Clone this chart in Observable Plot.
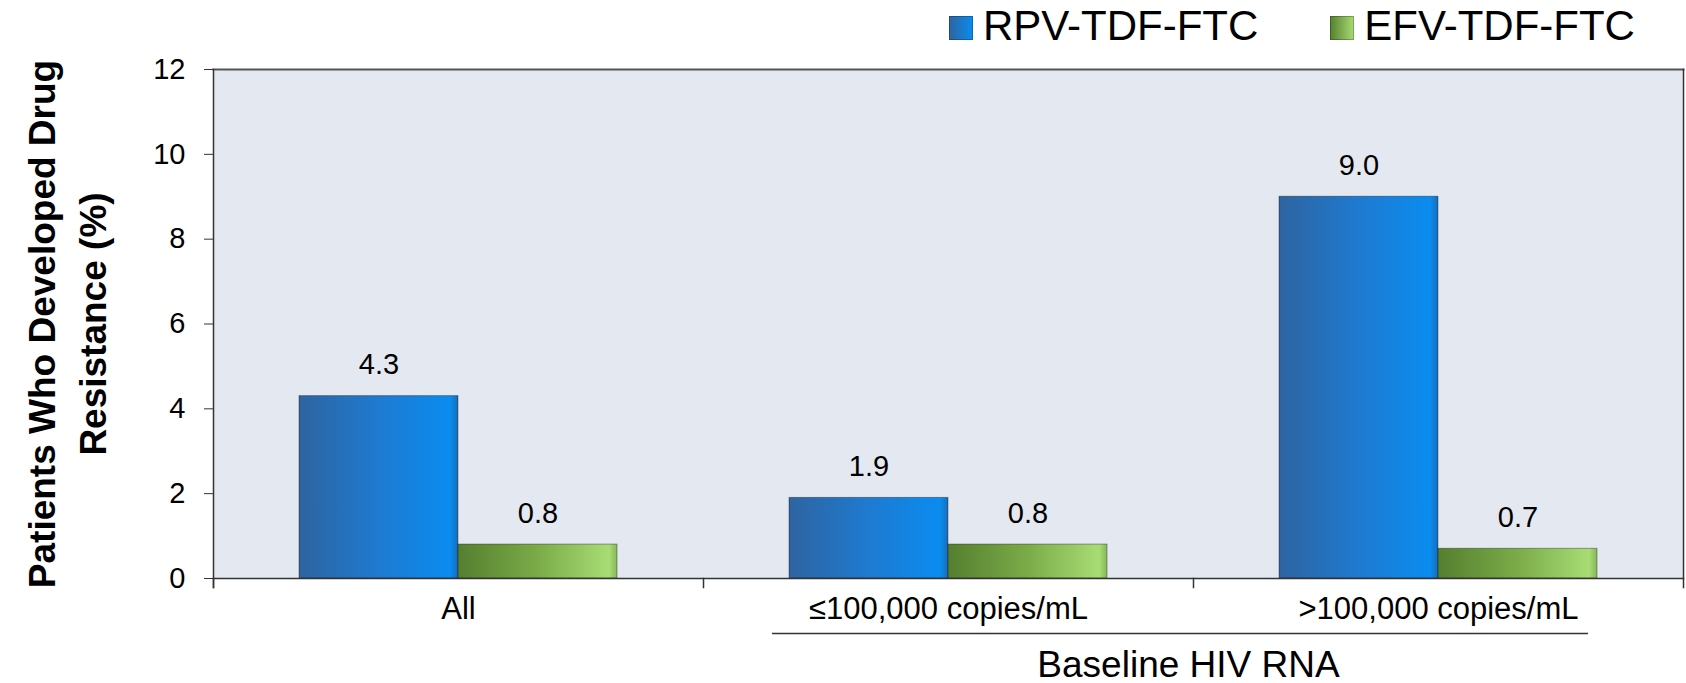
<!DOCTYPE html>
<html>
<head>
<meta charset="utf-8">
<script src="https://cdn.jsdelivr.net/npm/d3@7"></script>
<script src="https://cdn.jsdelivr.net/npm/@observablehq/plot@0.6"></script>
<style>
  html, body { margin: 0; padding: 0; background: #fff; }
  body { width: 1686px; height: 683px; overflow: hidden; font-family: "Liberation Sans", Arial, sans-serif; }
  #legend { height: 52px; display: flex; align-items: flex-start; padding-left: 949px; box-sizing: border-box; }
  .item { display: flex; align-items: flex-start; font-size: 42px; line-height: 52px; color: #000; }
  .item + .item { margin-left: 72px; }
  .sw { width: 24px; height: 24px; margin-top: 16px; margin-right: 10px; box-shadow: inset 0 0 0 1px rgba(0,0,0,0.25); }
</style>
</head>
<body>
<div id="legend"></div>
<div id="chart"></div>
<script>
// ---- data ----
const categories = ["All", "≤100,000 copies/mL", ">100,000 copies/mL"];
const series = ["RPV-TDF-FTC", "EFV-TDF-FTC"];
const rpvValues = [4.3, 1.9, 9.0];
const efvValues = [0.8, 0.8, 0.7];
const yTicks = [0, 2, 4, 6, 8, 10, 12];
const yTitle = "Patients Who Developed Drug\nResistance (%)";
const groupTitle = "Baseline HIV RNA";
const groupMembers = [categories[1], categories[2]];

const seriesGradients = ["url(#gradBlue)", "url(#gradGreen)"];
const legendCss = [
  "linear-gradient(90deg, #2e64a0, #0a8cf0)",
  "linear-gradient(90deg, #557f30, #a8dc74)"
];

const rows = [];
categories.forEach((c, i) => {
  rows.push({category: c, series: series[0], value: rpvValues[i]});
  rows.push({category: c, series: series[1], value: efvValues[i]});
});

// ---- legend ----
const legend = document.getElementById("legend");
series.forEach((s, i) => {
  const item = document.createElement("div");
  item.className = "item";
  const sw = document.createElement("div");
  sw.className = "sw";
  sw.style.background = legendCss[i];
  const t = document.createElement("span");
  t.textContent = s;
  item.append(sw, t);
  legend.append(item);
});

// ---- chart ----
const W = 1686, H = 631, mT = 17, mB = 105, mL = 213, mR = 3;
const frameH = H - mT - mB;
const fmt = d3.format(".1f");
const lineColor = "#333";

const chart = Plot.plot({
  width: W,
  height: H,
  marginTop: mT,
  marginBottom: mB,
  marginLeft: mL,
  marginRight: mR,
  style: {fontFamily: "Liberation Sans, Arial, sans-serif", fontSize: "29px", color: "#000", background: "#fff", overflow: "visible"},
  fx: {domain: categories, padding: 0, axis: null},
  x: {domain: series, paddingInner: 0, paddingOuter: 0.54, axis: null},
  y: {domain: [0, 12], axis: null},
  color: {domain: series, range: seriesGradients},
  marks: [
    Plot.frame({facet: "super", fill: "#e4e8f0", stroke: "none"}),
    Plot.barY(rows, {fx: "category", x: "series", y: "value", fill: "series", stroke: "rgba(0,0,0,0.35)", strokeWidth: 1}),
    Plot.text(rows, {fx: "category", x: "series", y: "value", text: d => fmt(d.value), dy: -22, lineAnchor: "bottom", fontSize: 29}),
    Plot.frame({facet: "super", anchor: "top", stroke: "#555", strokeWidth: 2}),
    Plot.frame({facet: "super", anchor: "bottom", stroke: lineColor, strokeWidth: 1.5}),
    Plot.frame({anchor: "left", insetTop: frameH, insetBottom: -9, stroke: lineColor, strokeWidth: 1.5}),
    Plot.frame({anchor: "left", facetAnchor: "left", insetBottom: -9, stroke: lineColor, strokeWidth: 1.5}),
    Plot.frame({anchor: "right", facetAnchor: "right", insetBottom: -9, stroke: lineColor, strokeWidth: 1.5}),
    Plot.axisY({ticks: yTicks, tickSize: 9, tickPadding: 19, fontSize: 29, label: null, stroke: lineColor}),
    Plot.text(categories, {fx: d => d, text: d => d, frameAnchor: "bottom", dy: 18, lineAnchor: "top", fontSize: 31}),
    Plot.ruleY([groupMembers[0]], {fx: d => d, y: () => 0, dy: 55, insetLeft: 69, stroke: lineColor, strokeWidth: 1.5}),
    Plot.ruleY([groupMembers[1]], {fx: d => d, y: () => 0, dy: 55, insetRight: 95, stroke: lineColor, strokeWidth: 1.5}),
    Plot.text([groupTitle], {fx: () => groupMembers[1], frameAnchor: "bottom-left", textAnchor: "middle", dx: -5, dy: 72, lineAnchor: "top", fontSize: 37}),
    Plot.text([yTitle], {fx: () => categories[0], frameAnchor: "left", textAnchor: "middle", dx: -149, rotate: -90, lineHeight: 1.36, fontSize: 37, fontWeight: "bold"})
  ]
});

const defs = d3.select(chart).insert("defs", ":first-child");
const gb = defs.append("linearGradient").attr("id", "gradBlue").attr("x1", 0).attr("x2", 1).attr("y1", 0).attr("y2", 0);
gb.append("stop").attr("offset", "0%").attr("stop-color", "#2e64a0");
gb.append("stop").attr("offset", "50%").attr("stop-color", "#1f7ad0");
gb.append("stop").attr("offset", "95%").attr("stop-color", "#0a8cf0");
gb.append("stop").attr("offset", "100%").attr("stop-color", "#1a6cb8");
const gg = defs.append("linearGradient").attr("id", "gradGreen").attr("x1", 0).attr("x2", 1).attr("y1", 0).attr("y2", 0);
gg.append("stop").attr("offset", "0%").attr("stop-color", "#557f30");
gg.append("stop").attr("offset", "50%").attr("stop-color", "#7aab48");
gg.append("stop").attr("offset", "95%").attr("stop-color", "#a8dc74");
gg.append("stop").attr("offset", "100%").attr("stop-color", "#86b858");

document.getElementById("chart").append(chart);
</script>
</body>
</html>
